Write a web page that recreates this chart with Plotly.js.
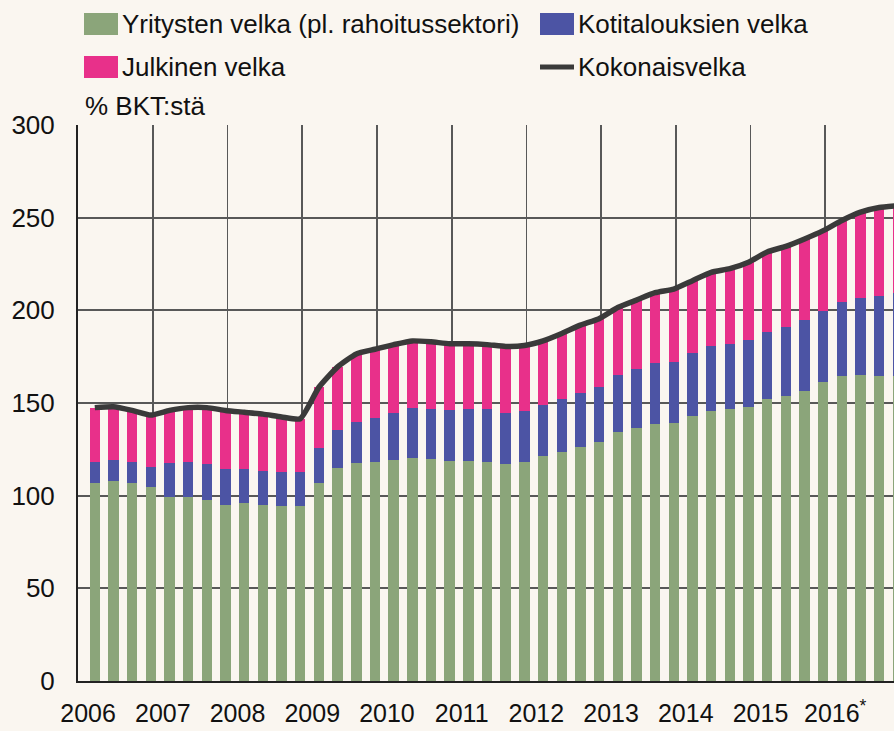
<!DOCTYPE html>
<html><head><meta charset="utf-8">
<script src="https://cdn.plot.ly/plotly-3.0.1.min.js"></script>
<style>html,body{margin:0;padding:0;background:#FAF6F0}</style>
</head><body><div id="chart" style="width:894px;height:731px"></div>
<script>
// ---- data ----
const years = ['2006','2007','2008','2009','2010','2011','2012','2013','2014','2015','2016'];
const yearLabels = ['2006','2007','2008','2009','2010','2011','2012','2013','2014','2015','2016<sup>*</sup>'];
const quarterNames = ['Q1','Q2','Q3','Q4'];
const seriesNames = ['Yritysten velka (pl. rahoitussektori)', 'Kotitalouksien velka', 'Julkinen velka', 'Kokonaisvelka'];
const yUnit = '% BKT:stä';
const yTicks = [0, 50, 100, 150, 200, 250, 300];

const corporateDebt = [106.7,108.1,107.0,104.9, 99.1,99.1,97.7,95.2, 96.2,95.0,94.4,94.4,
  107.0,114.8,117.5,118.0, 119.3,120.2,119.6,118.9, 118.9,118.4,117.1,118.0,
  121.4,123.7,126.5,129.2, 134.2,136.4,138.5,139.1, 143.0,145.9,146.6,148.0,
  152.0,153.8,156.7,161.2, 164.6,165.1,164.8,164.8];
const householdDebt = [11.3,11.2,11.0,10.7, 18.4,18.9,19.4,19.0, 18.4,18.5,18.6,18.2,
  18.6,20.7,22.5,23.8, 25.5,27.0,27.2,27.3, 27.7,28.2,27.7,27.9,
  27.5,28.5,29.1,29.6, 30.9,31.8,33.0,32.9, 33.8,34.9,35.3,36.0,
  36.2,37.4,38.1,38.6, 40.1,41.4,43.1,44.4];
const publicDebt = [29.5,28.7,28.0,27.9, 28.5,29.5,30.4,31.8, 30.4,30.5,29.5,28.9,
  32.9,34.0,36.5,37.2, 36.7,36.3,36.2,35.8, 35.4,34.9,35.7,35.1,
  34.6,35.3,36.4,36.7, 36.4,37.3,38.0,39.5, 39.2,39.7,40.6,42.0,
  43.3,43.3,43.7,43.2, 43.8,46.5,47.6,47.3];
const totalDebt = [147.5,148.0,146.0,143.5, 146.0,147.5,147.5,146.0, 145.0,144.0,142.5,141.5,
  158.5,169.5,176.5,179.0, 181.5,183.5,183.0,182.0, 182.0,181.5,180.5,181.0,
  183.5,187.5,192.0,195.5, 201.5,205.5,209.5,211.5, 216.0,220.5,222.5,226.0,
  231.5,234.5,238.5,243.0, 248.5,253.0,255.5,256.5];

// ---- styles ----
const colors = ['#8BA57A', '#4C54A4', '#E8308A', '#3A3A3A'];
const quarters = [];
years.forEach(y => quarterNames.forEach(q => quarters.push(y + q)));
const xs = quarters.map((q, i) => i);
const FONT = 'Liberation Sans, Arial, sans-serif';

const W = 894, H = 731, L = 78, R = 0, T = 125, B = 50;
const plotW = W - L - R, plotH = H - T - B;
const px2x = p => (p - L) / plotW;
const py2y = p => (H - B - p) / plotH;

const mkBar = (vals, k) => ({
  type: 'bar', x: xs, y: vals, name: seriesNames[k], width: 0.56,
  marker: {color: colors[k], line: {width: 0}}, hovertext: quarters, showlegend: false
});
const traces = [
  mkBar(corporateDebt, 0), mkBar(householdDebt, 1), mkBar(publicDebt, 2),
  {type: 'scatter', mode: 'lines', x: xs, y: totalDebt, name: seriesNames[3],
   line: {color: colors[3], width: 5.5, shape: 'spline', smoothing: 0.5}, showlegend: false}
];

// custom legend
const legendItems = [
  {k: 0, sx: 84, ty: 24}, {k: 1, sx: 540, ty: 24},
  {k: 2, sx: 84, ty: 67}, {k: 3, sx: 540, ty: 67}
];
const shapes = [], annotations = [];
legendItems.forEach(it => {
  if (it.k < 3) {
    shapes.push({type: 'rect', xref: 'paper', yref: 'paper',
      x0: px2x(it.sx), x1: px2x(it.sx + 34), y0: py2y(it.ty + 11), y1: py2y(it.ty - 11),
      fillcolor: colors[it.k], line: {width: 0}});
  } else {
    shapes.push({type: 'line', xref: 'paper', yref: 'paper',
      x0: px2x(it.sx), x1: px2x(it.sx + 34), y0: py2y(it.ty), y1: py2y(it.ty),
      line: {color: colors[3], width: 5}});
  }
  annotations.push({xref: 'paper', yref: 'paper', x: px2x(it.sx + 36), y: py2y(it.ty),
    xanchor: 'left', yanchor: 'middle', showarrow: false, text: seriesNames[it.k],
    font: {family: FONT, size: 26, color: '#111'}});
});
annotations.push({xref: 'paper', yref: 'paper', x: px2x(83), y: py2y(106),
  xanchor: 'left', yanchor: 'middle', showarrow: false, text: yUnit,
  font: {family: FONT, size: 26, color: '#111'}});

const layout = {
  width: W, height: H, margin: {l: L, r: R, t: T, b: B},
  paper_bgcolor: '#FAF6F0', plot_bgcolor: '#FAF6F0',
  barmode: 'stack', showlegend: false,
  font: {family: FONT, size: 26, color: '#111'},
  xaxis: {
    range: [-0.9, 42.79], tickmode: 'array',
    tickvals: years.map((y, k) => 4 * k - 0.894), ticktext: yearLabels,
    ticklabelshift: 10, ticklabelstandoff: 9, ticks: '',
    showgrid: true, gridcolor: '#585858', gridwidth: 1.7,
    zeroline: false, showline: true, linecolor: '#222', linewidth: 2,
    tickfont: {family: FONT, size: 25, color: '#111'}
  },
  yaxis: {
    range: [0, 300], tickmode: 'array', tickvals: yTicks, ticktext: yTicks.map(String),
    ticks: '', ticklabelstandoff: 16,
    showgrid: true, gridcolor: '#585858', gridwidth: 1.7,
    zeroline: false, showline: true, linecolor: '#222', linewidth: 2,
    tickfont: {family: FONT, size: 26, color: '#111'}
  },
  shapes: shapes, annotations: annotations
};
Plotly.newPlot('chart', traces, layout, {displayModeBar: false, staticPlot: true});
</script></body></html>
